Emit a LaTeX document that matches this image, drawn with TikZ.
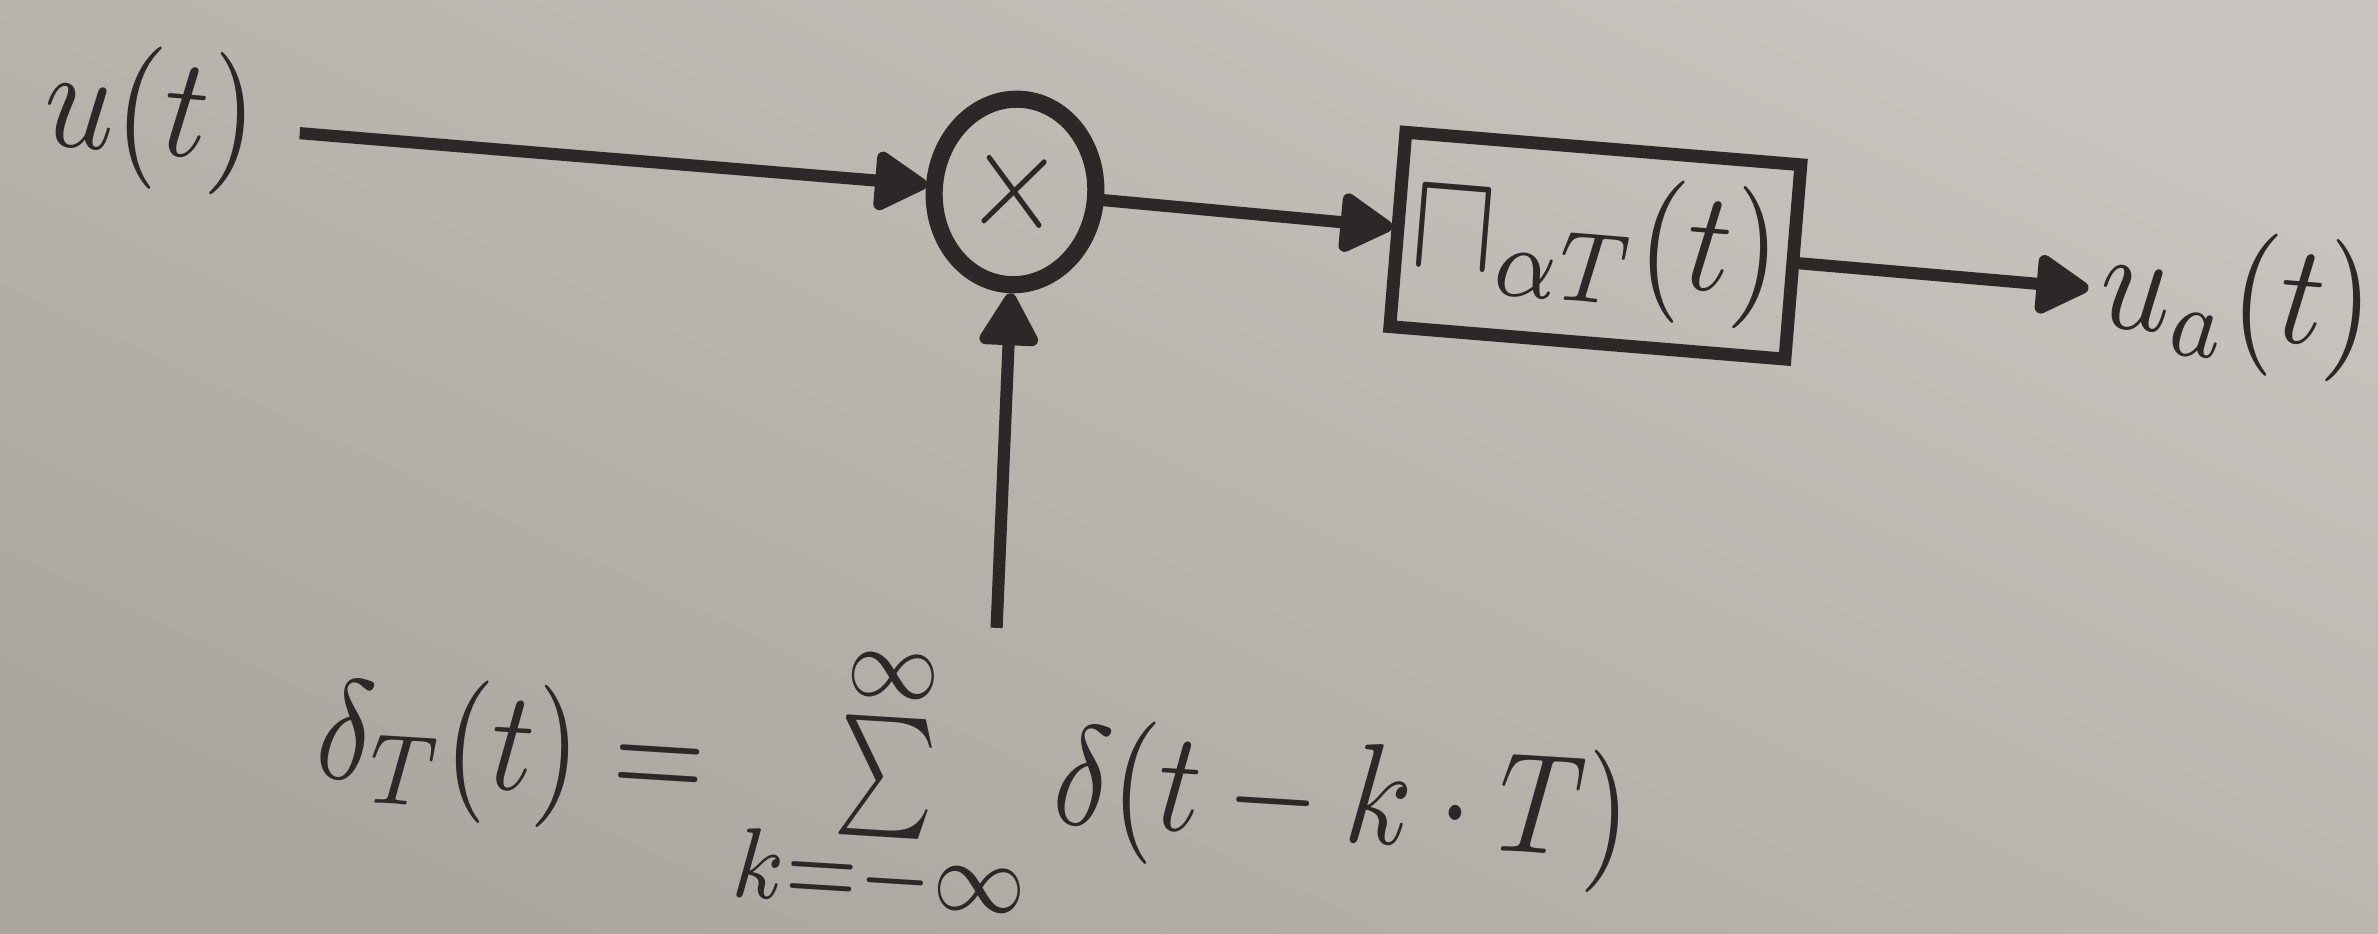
\documentclass[tikz,border=0pt]{standalone}
\usetikzlibrary{arrows.meta}
\usepackage{graphicx}
\definecolor{ink}{RGB}{44,40,40}
\definecolor{bgA}{RGB}{172,166,160}
\definecolor{bgB}{RGB}{200,195,190}
\newcommand{\smallsum}{\mathop{\vcenter{\hbox{\scalebox{0.78}[0.84]{$\textstyle\sum$}}}}\limits}
\begin{document}
\begin{tikzpicture}[x=0.07pt,y=-0.07pt,
  arr/.style={draw=ink, line width=0.85pt, -{Triangle[length=4.1pt,width=4.5pt,round]}},
  lbl/.style={text=ink, inner sep=0pt},
  mulnode/.style={circle, draw=ink, line width=1.2pt, minimum size=13pt, inner sep=0pt, text=ink},
  blockbox/.style={rectangle, draw=ink, line width=0.9pt, minimum width=31.9pt, minimum height=13.65pt, inner sep=0pt, text=ink}]
\shade[top color=bgB, bottom color=bgA, shading angle=-25] (0,0) rectangle (2378,934);
\useasboundingbox (0,0) rectangle (2378,934);
\begin{scope}[shift={(1015,192)}, rotate=-4.7, xscale=0.87, transform shape]
  \node[mulnode] (mul) at (0,0) {$\times$};
  \node[blockbox] (blk) at (670,6) {$\mathord{\scalebox{1.02}[1.0]{$\sqcap$}}_{\alpha T}(t)$};
  \node[lbl] (ut) at (-997,-3) {$u(t)$};
  \node[lbl] (ua) at (1410,10) {$u_a(t)$};
  \coordinate (in) at (-825,0);
  \coordinate (out) at (1239,8);
  \coordinate (dl) at (20,436);
  \node[lbl, anchor=base, rotate=1, xscale=0.96] (form) at (9,628) {$\delta_T(t) = \smallsum^{\smash{\raisebox{-0.6pt}{$\scriptstyle\infty$}}}_{\smash{\raisebox{1.2pt}{$\scriptstyle k=-\infty$}}} \delta(t-k\cdot T)$};
  \draw[arr] (in) -- (mul);
  \draw[arr] (mul) -- (blk);
  \draw[arr] (blk) -- (out);
  \draw[arr] (dl) -- (mul);
\end{scope}
\end{tikzpicture}
\end{document}
